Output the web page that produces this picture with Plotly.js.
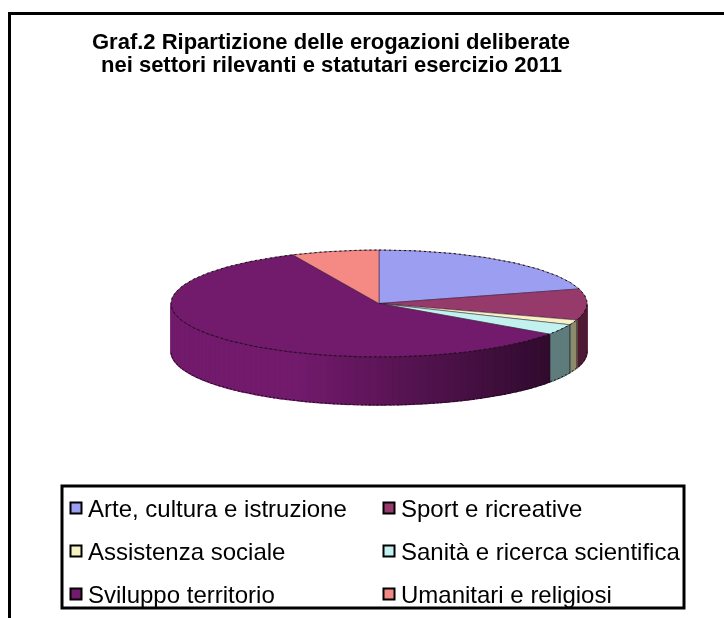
<!DOCTYPE html>
<html><head><meta charset="utf-8">
<script src="https://cdn.plot.ly/plotly-3.0.1.min.js"></script>
<style>
html,body{margin:0;padding:0;background:#fff;overflow:hidden}
#chart{width:724px;height:618px;filter:blur(0.35px)}
</style></head><body><div id="chart"></div>
<script>
// Data
const categories = ['Arte, cultura e istruzione','Sport e ricreative','Assistenza sociale','Sanità e ricerca scientifica','Sviluppo territorio','Umanitari e religiosi'];
const shares = [20.6, 9.4, 1.5, 3.2, 58.5, 6.8];
const topColors = ['#9c9ef2','#963a6c','#f6f2c4','#c2f2f0','#721a6c','#f58a84'];
const sideColors = ['#6a6ca8','#4f1a34','#8c8c6c','#5f7c7c','#721a6c','#a85e5a'];
const titleLines = ['Graf.2 Ripartizione delle erogazioni deliberate','nei settori rilevanti e statutari esercizio 2011'];

// Projection of the tilted pie onto the page
const cx=379, cy=303.5, rx=208, ry=53.5, depth=48;
const px=a=>cx+rx*Math.sin(a*Math.PI/180);
const py=a=>cy-ry*Math.cos(a*Math.PI/180);
const hex=c=>[1,3,5].map(i=>parseInt(c.substr(i,2),16));
const shade=(c,f)=>{const [r,g,b]=hex(c);return `rgb(${Math.round(r*f)},${Math.round(g*f)},${Math.round(b*f)})`;};

const total=shares.reduce((a,b)=>a+b,0);
let acc=0;
const slices=shares.map((v,i)=>{const s=acc/total*360;acc+=v;return {i,s,e:acc/total*360};});
const traces=[];

// Side wall strips (visible from 90 to 270 degrees)
slices.forEach(sl=>{
  const a0=Math.max(sl.s,90), a1=Math.min(sl.e,270);
  if(a1<=a0) return;
  const steps=Math.max(1,Math.ceil((a1-a0)/2));
  for(let k=0;k<steps;k++){
    const a=a0+(a1-a0)*k/steps, b=a0+(a1-a0)*(k+1)/steps;
    const t=(px((a+b)/2)-300)/250;
    const f=sl.i===4?(t<=0?1:1-0.58*Math.min(t,1)):1;
    const col=shade(sideColors[sl.i],f);
    traces.push({type:'scatter',mode:'lines',fill:'toself',fillcolor:col,
      line:{color:col,width:1.4},hoverinfo:'skip',showlegend:false,
      x:[px(a),px(b),px(b),px(a),px(a)],
      y:[py(a),py(b),py(b)+depth,py(a)+depth,py(a)]});
  }
});
// Side wall outline
const outX=[],outY=[];
for(let a=90;a<=270;a+=2){outX.push(px(a));outY.push(py(a)+depth);}
traces.push({type:'scatter',mode:'lines',x:outX,y:outY,line:{color:'#1a0a1a',width:1,dash:'2px,2px'},hoverinfo:'skip',showlegend:false});
// Wedge separators on the wall
slices.forEach(sl=>{
  if(sl.e>90&&sl.e<270){
    traces.push({type:'scatter',mode:'lines',x:[px(sl.e),px(sl.e)],y:[py(sl.e),py(sl.e)+depth],
      line:{color:'rgba(30,20,30,.7)',width:1},hoverinfo:'skip',showlegend:false});
  }
});
// Top faces
slices.forEach(sl=>{
  const xs=[cx],ys=[cy];
  const n=Math.max(2,Math.ceil(sl.e-sl.s));
  for(let k=0;k<=n;k++){const a=sl.s+(sl.e-sl.s)*k/n;xs.push(px(a));ys.push(py(a));}
  xs.push(cx);ys.push(cy);
  traces.push({type:'scatter',mode:'lines',fill:'toself',fillcolor:topColors[sl.i],
    line:{color:'rgba(40,20,40,.6)',width:0.8},x:xs,y:ys,name:categories[sl.i],
    text:categories[sl.i]+': '+shares[sl.i]+'%',hoverinfo:'text',showlegend:false});
});
// Dotted rim of the disc
const rimX=[],rimY=[];
for(let a=0;a<=360;a+=1){rimX.push(px(a));rimY.push(py(a));}
traces.push({type:'scatter',mode:'lines',x:rimX,y:rimY,line:{color:'#1a0a1a',width:1,dash:'2px,3px'},hoverinfo:'skip',showlegend:false});
// Legend swatches
const legX=[76,389], legY=[508,551,594];
const swX=categories.map((_,i)=>legX[i%2]), swY=categories.map((_,i)=>legY[Math.floor(i/2)]);
traces.push({type:'scatter',mode:'markers',x:swX,y:swY,hoverinfo:'skip',showlegend:false,
  marker:{symbol:'square',size:11,color:topColors,line:{color:'#000',width:2}}});
const font={family:'Liberation Sans, Arial, sans-serif',color:'#000'};
const annotations=categories.map((c,i)=>({text:c,xref:'x',yref:'y',x:swX[i]+10,y:swY[i],xanchor:'left',yanchor:'middle',
  showarrow:false,font:{...font,size:24}}));
annotations.push({text:titleLines[1],xref:'x',yref:'y',x:331,y:64,xanchor:'center',yanchor:'middle',showarrow:false,
  font:{...font,size:22,weight:700}});

const layout={
  width:724,height:618,margin:{l:0,r:0,t:0,b:0},paper_bgcolor:'#fff',plot_bgcolor:'#fff',showlegend:false,
  title:{text:titleLines[0],x:331/724,xanchor:'center',y:1-41/618,yanchor:'middle',
    font:{...font,size:22,weight:700}},
  xaxis:{range:[0,724],visible:false,fixedrange:true},
  yaxis:{range:[618,0],visible:false,fixedrange:true},
  annotations,
  shapes:[
    {type:'path',xref:'x',yref:'y',path:'M 9.5 618 L 9.5 13.5 L 724 13.5',line:{color:'#000',width:3}},
    {type:'rect',xref:'x',yref:'y',x0:62,x1:684,y0:486,y1:608,line:{color:'#000',width:3},layer:'above'}
  ]
};
Plotly.newPlot('chart',traces,layout,{displayModeBar:false,staticPlot:true});
</script></body></html>
